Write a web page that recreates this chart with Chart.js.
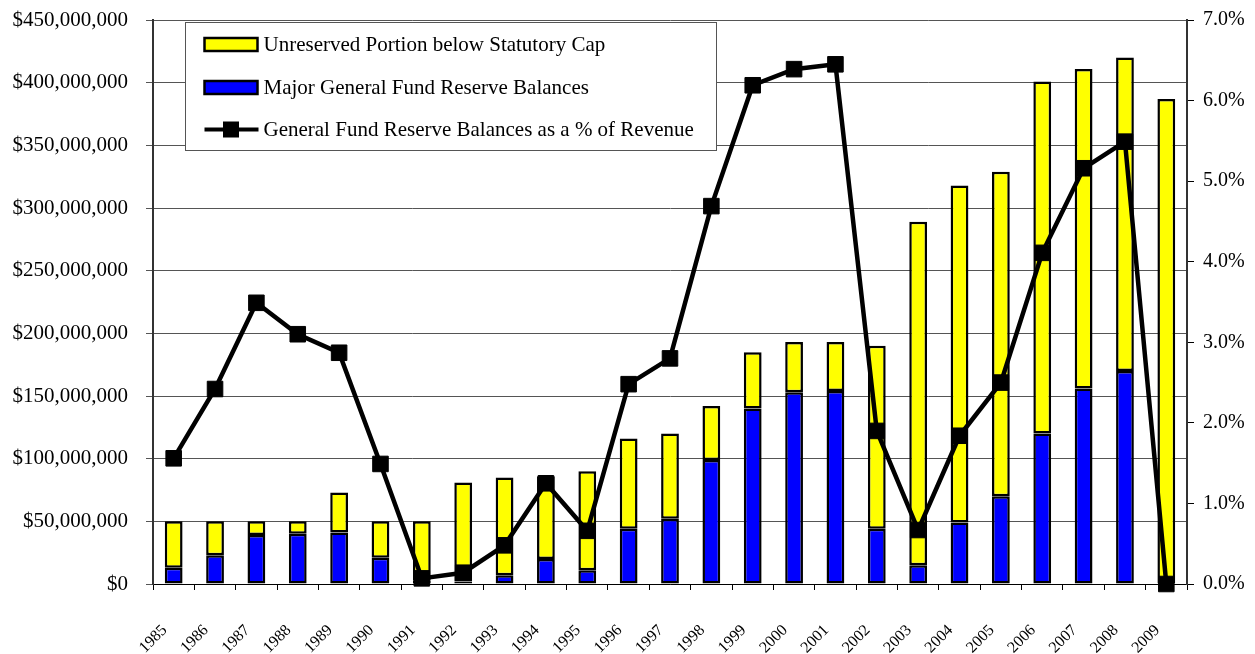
<!DOCTYPE html>
<html>
<head>
<meta charset="utf-8">
<script src="https://cdn.jsdelivr.net/npm/chart.js@4.4.1/dist/chart.umd.min.js"></script>
<style>
html,body{margin:0;padding:0;background:#ffffff;}
#wrap{position:relative;width:1255px;height:654px;}
canvas{display:block;}
</style>
</head>
<body>
<div id="wrap"><canvas id="c" width="1255" height="654"></canvas></div>
<script>
// ---- data (dollar amounts in millions) ----
const years = ['1985','1986','1987','1988','1989','1990','1991','1992','1993','1994','1995','1996','1997','1998','1999','2000','2001','2002','2003','2004','2005','2006','2007','2008','2009'];
const majorReserveBalances = [13,23,39,40,41,21,3,2,7,20,11,44,52,99,140,153,154,44,15,49,70,120,156,170,0];
const unreservedPortion    = [37,27,11,10,32,29,47,79,78,66,79,72,68,43,45,40,39,146,274,269,259,281,255,250,387];
const reservePctOfRevenue  = [1.56,2.42,3.49,3.10,2.87,1.49,0.07,0.14,0.48,1.25,0.66,2.48,2.80,4.69,6.19,6.39,6.45,1.90,0.67,1.84,2.50,4.11,5.16,5.49,0.00];
const legendLabels = ['Unreserved Portion below Statutory Cap','Major General Fund Reserve Balances','General Fund Reserve Balances as a % of Revenue'];

const FONT = "'Liberation Serif', 'Times New Roman', serif";

const legendBox = {
  id: 'legendBox',
  afterDraw(chart) {
    const ctx = chart.ctx;
    const ca = chart.chartArea;
    const x0 = ca.left + 32.5, y0 = ca.top + 2.5, w = 531, h = 128;
    ctx.save();
    ctx.fillStyle = '#ffffff';
    ctx.fillRect(x0, y0, w, h);
    ctx.strokeStyle = '#555555';
    ctx.lineWidth = 1;
    ctx.strokeRect(x0, y0, w, h);
    const rows = [y0 + 22, y0 + 65, y0 + 107];
    const sx = x0 + 19, sw = 53, sh = 13;
    const ds = chart.data.datasets;
    const swatch = (fill, cy) => {
      ctx.fillStyle = fill;
      ctx.fillRect(sx, cy - sh/2, sw, sh);
      ctx.strokeStyle = '#000';
      ctx.lineWidth = 2.5;
      ctx.strokeRect(sx, cy - sh/2, sw, sh);
    };
    swatch(ds[2].backgroundColor, rows[0]);
    swatch(ds[1].backgroundColor, rows[1]);
    ctx.strokeStyle = '#000';
    ctx.lineWidth = 4;
    ctx.beginPath();
    ctx.moveTo(sx, rows[2]);
    ctx.lineTo(sx + sw + 1, rows[2]);
    ctx.stroke();
    ctx.fillStyle = '#000';
    ctx.fillRect(sx + sw/2 - 8, rows[2] - 8, 16, 16);
    ctx.font = '21px ' + FONT;
    ctx.textBaseline = 'middle';
    ctx.textAlign = 'left';
    ctx.fillStyle = '#000';
    legendLabels.forEach((t, i) => ctx.fillText(t, sx + sw + 6, rows[i] + 1));
    ctx.restore();
  }
};

const noVPad = s => { s.paddingTop = 0; s.paddingBottom = 0; };

new Chart(document.getElementById('c'), {
  data: {
    labels: years,
    datasets: [
      {
        type: 'line',
        label: legendLabels[2],
        data: reservePctOfRevenue,
        yAxisID: 'y1',
        borderColor: '#000000',
        backgroundColor: '#000000',
        borderWidth: 4.5,
        pointStyle: 'rect',
        pointRadius: 11,
        pointBorderWidth: 1,
        tension: 0,
        clip: false,
        order: 0
      },
      {
        type: 'bar',
        label: legendLabels[1],
        data: majorReserveBalances,
        yAxisID: 'y',
        backgroundColor: '#0000FF',
        borderColor: '#000000',
        borderWidth: 2.5,
        borderSkipped: false,
        categoryPercentage: 1,
        barPercentage: 0.43,
        stack: 's',
        order: 1
      },
      {
        type: 'bar',
        label: legendLabels[0],
        data: unreservedPortion,
        yAxisID: 'y',
        backgroundColor: '#FFFF00',
        borderColor: '#000000',
        borderWidth: 2.5,
        borderSkipped: false,
        categoryPercentage: 1,
        barPercentage: 0.43,
        stack: 's',
        order: 1
      }
    ]
  },
  options: {
    responsive: false,
    animation: false,
    layout: { autoPadding: false, padding: { top: 20, right: 0, left: 0, bottom: 0 } },
    plugins: { legend: { display: false }, tooltip: { enabled: false } },
    scales: {
      x: {
        stacked: true,
        grid: { display: true, drawOnChartArea: false, tickLength: 6, color: '#000', offset: true },
        border: { display: true, color: '#000', width: 1 },
        ticks: {
          color: '#000',
          font: { family: FONT, size: 16 },
          minRotation: 45, maxRotation: 45,
          autoSkip: false,
          padding: 31,
          labelOffset: -9
        },
        afterFit(s) { s.height = 70; s.paddingLeft = 0; s.paddingRight = 0; }
      },
      y: {
        stacked: true,
        position: 'left',
        min: 0, max: 450,
        grid: { color: '#555555', lineWidth: 1, tickLength: 7 },
        border: { display: true, color: '#333', width: 2 },
        ticks: {
          stepSize: 50,
          color: '#000',
          font: { family: FONT, size: 21 },
          padding: 18,
          callback: v => '$' + (v * 1000000).toLocaleString('en-US')
        },
        afterFit(s) { s.width = 153; noVPad(s); }
      },
      y1: {
        position: 'right',
        min: 0, max: 7,
        grid: { drawOnChartArea: false, color: '#000', tickLength: 7 },
        border: { display: true, color: '#333', width: 2 },
        ticks: {
          stepSize: 1,
          color: '#000',
          font: { family: FONT, size: 20 },
          padding: 9,
          callback: v => v.toFixed(1) + '%'
        },
        afterFit(s) { s.width = 68; noVPad(s); }
      }
    }
  },
  plugins: [legendBox]
});
</script>
</body>
</html>
